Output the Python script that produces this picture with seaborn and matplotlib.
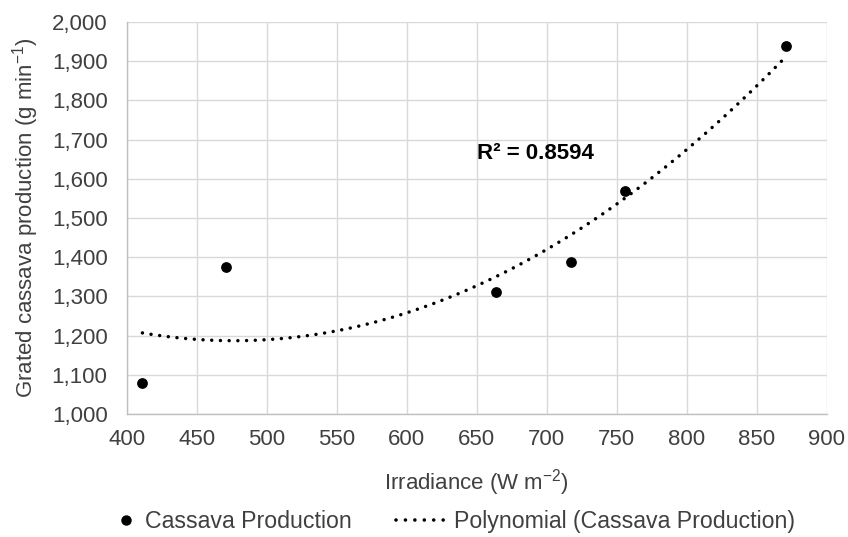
import matplotlib
matplotlib.use("Agg")
import matplotlib.pyplot as plt
import seaborn as sns
import pandas as pd
from matplotlib.lines import Line2D

irradiance = [411, 471, 664, 717, 756, 871]
production = [1080, 1374, 1312, 1389, 1570, 1940]
x_ticks = [400, 450, 500, 550, 600, 650, 700, 750, 800, 850, 900]
y_ticks = [1000, 1100, 1200, 1300, 1400, 1500, 1600, 1700, 1800, 1900, 2000]

df = pd.DataFrame({"Irradiance": irradiance, "Production": production})

sns.set_style("white")
plt.rcParams['font.family'] = ['Liberation Sans', 'DejaVu Sans']
plt.rcParams['mathtext.default'] = 'regular'

FS = 16
LFS = 16.7
TXT = "#404040"
DOTS = (0, (0.01, 2.5))

fig = plt.figure(figsize=(8.48, 5.37), dpi=100)
ax = fig.add_axes([0.1498, 0.229, 0.825, 0.730])

sns.regplot(data=df, x="Irradiance", y="Production", order=2, ci=None,
            scatter=False, ax=ax,
            line_kws=dict(color="black", lw=2.5, linestyle=DOTS,
                          dash_capstyle="round"))
sns.scatterplot(data=df, x="Irradiance", y="Production", ax=ax, color="black",
                s=60, edgecolor="black", linewidth=0, zorder=5)

ax.set_xlim(400, 900)
ax.set_ylim(1000, 2000)
ax.set_xticks(x_ticks)
ax.set_yticks(y_ticks)
ax.set_yticklabels([f"{v:,}" for v in y_ticks])
ax.grid(True, color="#d9d9d9", lw=1)
ax.set_axisbelow(True)
for s in ["top", "right"]:
    ax.spines[s].set_visible(False)
for s in ["left", "bottom"]:
    ax.spines[s].set_color("#bfbfbf")
    ax.spines[s].set_linewidth(1)
ax.tick_params(axis="both", length=0, labelsize=FS, colors=TXT)
ax.tick_params(axis="y", pad=14)
ax.tick_params(axis="x", pad=11)

ax.set_xlabel("Irradiance (W m$^{-2}$)", fontsize=FS, color=TXT, labelpad=12)
ax.set_ylabel("Grated cassava production (g min$^{-1}$)", fontsize=FS, color=TXT, labelpad=8)

ax.text(650, 1650, "R² = 0.8594", fontsize=FS, fontweight="bold", color="black",
        va="baseline")

h1 = [Line2D([], [], marker="o", color="black", linestyle="none", markersize=6.5)]
h2 = [Line2D([], [], color="black", lw=2.6, linestyle=(0, (0.01, 2.6)),
             dash_capstyle="round")]
leg1 = fig.legend(h1, ["Cassava Production"], loc="center left",
                  bbox_to_anchor=(114 / 848, 0.028), frameon=False, fontsize=LFS,
                  labelcolor=TXT, handlelength=1.0, handletextpad=0.35,
                  borderpad=0, borderaxespad=0)
leg2 = fig.legend(h2, ["Polynomial (Cassava Production)"], loc="center left",
                  bbox_to_anchor=(396 / 848, 0.028), frameon=False, fontsize=LFS,
                  labelcolor=TXT, handlelength=2.1, handletextpad=0.4,
                  borderpad=0, borderaxespad=0)

fig.savefig("out.png", dpi=100)
